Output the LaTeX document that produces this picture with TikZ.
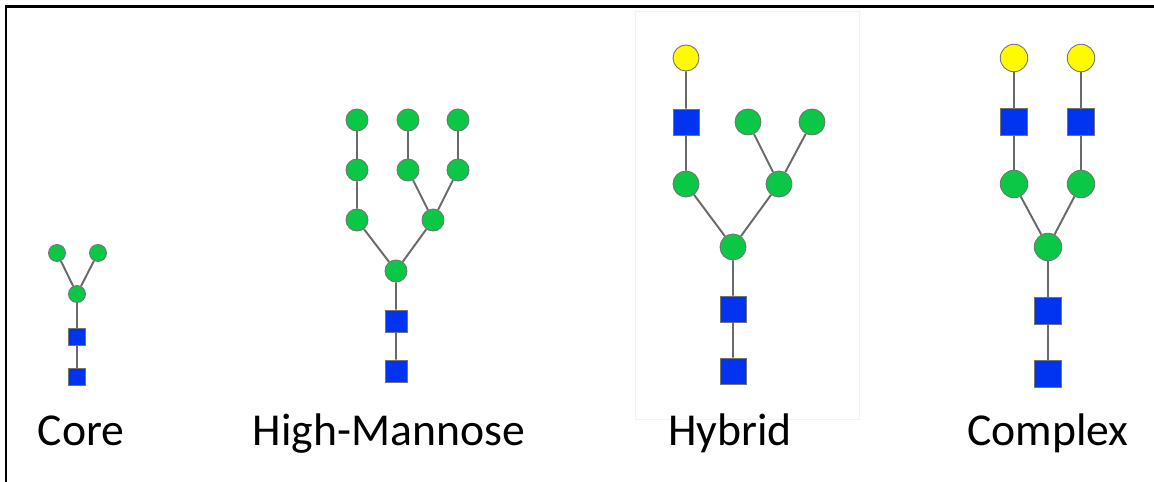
\documentclass[tikz,border=0pt]{standalone}
\usepackage{fontspec}
\setmainfont{Carlito}
\definecolor{mangreen}{RGB}{10,200,70}
\definecolor{glcblue}{RGB}{0,52,240}
\definecolor{galyellow}{RGB}{255,250,0}
\definecolor{linkgray}{RGB}{105,105,105}
\tikzset{
  man/.style={circle, draw=black!55, fill=mangreen, line width=0.5pt, inner sep=0pt, minimum size=#1},
  gal/.style={circle, draw=black!55, fill=galyellow, line width=0.5pt, inner sep=0pt, minimum size=#1},
  glc/.style={rectangle, draw=black!55, fill=glcblue, line width=0.5pt, inner sep=0pt, minimum size=#1},
  link/.style={draw=linkgray, line width=1.1pt},
  typelabel/.style={font=\fontsize{26}{31}\selectfont, anchor=base, inner sep=0pt}
}
\begin{document}
\begin{tikzpicture}[x=0.02cm, y=-0.02cm]
  \useasboundingbox (0,0) rectangle (1154,482);
  \fill[white] (0,0) rectangle (1154,482);
  % frame
  \draw[line width=0.06cm] (6,482) -- (6,7) -- (1154,7);
  % faint box behind hybrid
  \draw[black!5, line width=0.4pt] (635,11) rectangle (859,419);

  % core
  \def\s{0.34cm}
  \node[man=\s] (c1) at (57,253) {};
  \node[man=\s] (c2) at (98,253) {};
  \node[man=\s] (c3) at (77,294) {};
  \node[glc=\s] (c4) at (77,337) {};
  \node[glc=\s] (c5) at (77,377) {};
  \draw[link] (c1) -- (c3) (c2) -- (c3) (c3) -- (c4) (c4) -- (c5);
  \node[typelabel] (lcore) at (81,446) {Core};

  % high-mannose
  \def\s{0.44cm}
  \foreach \i/\x in {1/357,2/408,3/458}{
    \node[man=\s] (ht\i) at (\x,120) {};
    \node[man=\s] (hm\i) at (\x,170) {};
  }
  \node[man=\s] (hl) at (357,220) {};
  \node[man=\s] (hr) at (433,220) {};
  \node[man=\s] (hb) at (396,271) {};
  \node[glc=\s] (hg1) at (396,321) {};
  \node[glc=\s] (hg2) at (396,371) {};
  \foreach \i in {1,2,3}{
    \draw[link] (ht\i) -- (hm\i);
  }
  \draw[link] (hm1) -- (hl) (hm2) -- (hr) (hm3) -- (hr)
    (hl) -- (hb) (hr) -- (hb) (hb) -- (hg1) (hg1) -- (hg2);
  \node[typelabel] (lhigh) at (389,446) {High-Mannose};

  % hybrid
  \def\s{0.52cm}
  \node[gal=\s] (ya) at (686,58) {};
  \node[glc=\s] (yn) at (686,122) {};
  \node[man=\s] (yt1) at (748,122) {};
  \node[man=\s] (yt2) at (812,122) {};
  \node[man=\s] (yl) at (686,184) {};
  \node[man=\s] (yr) at (779,184) {};
  \node[man=\s] (yb) at (733,247) {};
  \node[glc=\s] (yg1) at (733,309) {};
  \node[glc=\s] (yg2) at (733,371) {};
  \draw[link] (ya) -- (yn) (yn) -- (yl) (yt1) -- (yr) (yt2) -- (yr)
    (yl) -- (yb) (yr) -- (yb) (yb) -- (yg1) (yg1) -- (yg2);
  \node[typelabel] (lhyb) at (730,446) {Hybrid};

  % complex
  \def\s{0.55cm}
  \foreach \i/\x in {1/1014,2/1081}{
    \node[gal=\s] (xa\i) at (\x,58) {};
    \node[glc=\s] (xn\i) at (\x,122) {};
    \node[man=\s] (xm\i) at (\x,184) {};
    \draw[link] (xa\i) -- (xn\i) (xn\i) -- (xm\i);
  }
  \node[man=\s] (xb) at (1048,247) {};
  \node[glc=\s] (xg1) at (1048,311) {};
  \node[glc=\s] (xg2) at (1048,374) {};
  \draw[link] (xm1) -- (xb) (xm2) -- (xb) (xb) -- (xg1) (xg1) -- (xg2);
  \node[typelabel] (lcomp) at (1048,446) {Complex};
\end{tikzpicture}
\end{document}
